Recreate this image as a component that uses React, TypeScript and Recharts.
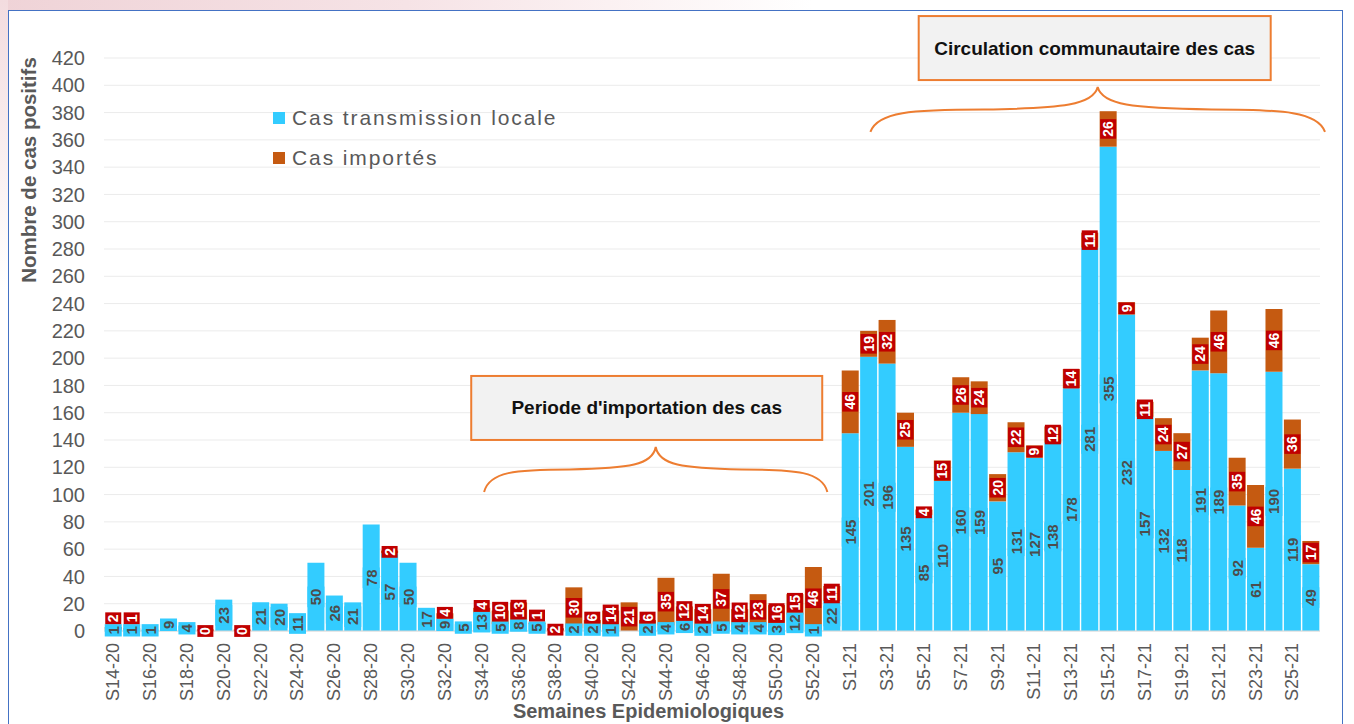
import React from 'react';
import {
  BarChart,
  Bar,
  XAxis,
  YAxis,
  CartesianGrid,
  LabelList,
  Legend,
  ReferenceArea,
  Label,
} from 'recharts';

// ---------- DATA ----------
const weeks: string[] = [
  'S14-20', 'S15-20', 'S16-20', 'S17-20', 'S18-20', 'S19-20', 'S20-20', 'S21-20', 'S22-20', 'S23-20',
  'S24-20', 'S25-20', 'S26-20', 'S27-20', 'S28-20', 'S29-20', 'S30-20', 'S31-20', 'S32-20', 'S33-20',
  'S34-20', 'S35-20', 'S36-20', 'S37-20', 'S38-20', 'S39-20', 'S40-20', 'S41-20', 'S42-20', 'S43-20',
  'S44-20', 'S45-20', 'S46-20', 'S47-20', 'S48-20', 'S49-20', 'S50-20', 'S51-20', 'S52-20', 'S53-20',
  'S1-21', 'S2-21', 'S3-21', 'S4-21', 'S5-21', 'S6-21', 'S7-21', 'S8-21', 'S9-21', 'S10-21',
  'S11-21', 'S12-21', 'S13-21', 'S14-21', 'S15-21', 'S16-21', 'S17-21', 'S18-21', 'S19-21', 'S20-21',
  'S21-21', 'S22-21', 'S23-21', 'S24-21', 'S25-21', 'S26-21',
];

const localCases: (number | null)[] = [
  1, 1, 1, 9, 4, null, 23, null, 21, 20,
  11, 50, 26, 21, 78, 57, 50, 17, 9, 5,
  13, 5, 8, 5, null, 2, 2, 1, null, 2,
  4, 6, 2, 5, 4, 4, 3, 12, 1, 22,
  145, 201, 196, 135, 85, 110, 160, 159, 95, 131,
  127, 138, 178, 281, 355, 232, 157, 132, 118, 191,
  189, 92, 61, 190, 119, 49,
];

const importedCases: (number | null)[] = [
  2, 1, null, null, null, 0, null, 0, null, null,
  null, null, null, null, null, 2, null, null, 4, null,
  4, 10, 13, 1, 2, 30, 6, 14, 21, 6,
  35, 12, 14, 37, 12, 23, 16, 15, 46, 11,
  46, 19, 32, 25, 4, 15, 26, 24, 20, 22,
  9, 12, 14, 11, 26, 9, 11, 24, 27, 24,
  46, 35, 46, 46, 36, 17,
];

const yTicks: number[] = [0, 20, 40, 60, 80, 100, 120, 140, 160, 180, 200, 220, 240, 260, 280, 300, 320, 340, 360, 380, 400, 420];

const seriesNames = { local: 'Cas transmission locale', imported: 'Cas importés' };
const axisTitles = { y: 'Nombre de cas positifs', x: 'Semaines Epidemiologiques' };
const annotations = {
  import: { text: "Periode d'importation des cas", from: 'S34-20', to: 'S53-20', tipValue: 134.9, endValue: 101.9 },
  community: { text: 'Circulation communautaire des cas', from: 'S2-21', to: 'S26-21', tipValue: 398.7, endValue: 365.8 },
};

const data = weeks.map((w, i) => ({
  week: w,
  local: localCases[i],
  imported: importedCases[i],
  redLbl: importedCases[i] === null ? null : `${importedCases[i]}|${localCases[i] === null ? '' : localCases[i]}`,
}));

// ---------- STYLE ----------
const FONT = "'Liberation Sans', Arial, Helvetica, sans-serif";
const BLUE = '#33CCFF';
const ORANGE = '#C55A11';
const RED = '#C00000';
const ACCENT = '#ED7D31';
const GRAY = '#595959';
const W = 1354;
const H = 724;
const MARGIN = { top: 58, right: 34, bottom: 0, left: 0 };
const X_AXIS_H = 93;
const Y_AXIS_W = 104;
const PLOT_H = H - MARGIN.top - MARGIN.bottom - X_AXIS_H;
const Y_MAX = 420;

const boxLen = (s: string, fs: number) => s.length * 0.556 * fs + 4;

const geom = (props: any) => {
  const vb = props.viewBox && typeof props.viewBox.x === 'number' ? props.viewBox : props;
  const x = Number(vb.x);
  const y = Number(vb.y);
  const w = Number(vb.width);
  const h = Number(vb.height);
  const top = Math.min(y, y + h);
  return { x, top, w, hh: Math.abs(h) };
};

const BlueLabel = (props: any) => {
  const v = props.value;
  if (v === null || v === undefined || v === '') return null;
  const { x, top, w, hh } = geom(props);
  const cx = x + w / 2;
  const cy = top + hh / 2;
  const s = String(v);
  const bh = boxLen(s, 15);
  return (
    <g>
      <rect x={x} y={cy - bh / 2} width={w} height={bh} fill={BLUE} />
      <text
        x={cx}
        y={cy}
        transform={`rotate(-90 ${cx} ${cy})`}
        textAnchor="middle"
        dominantBaseline="central"
        fontSize={15}
        fontWeight="bold"
        fontFamily={FONT}
        fill="#4D4D4D"
      >
        {s}
      </text>
    </g>
  );
};

const RedLabel = (props: any) => {
  const raw = props.value;
  if (raw === null || raw === undefined) return null;
  const [impS, locS] = String(raw).split('|');
  const imp = Number(impS);
  const loc = locS === '' || locS === undefined ? null : Number(locS);
  const { x, top, w, hh } = geom(props);
  const ppu = imp > 0 && hh > 0 ? hh / imp : PLOT_H / Y_MAX;
  const cx = x + w / 2;
  const rh = boxLen(impS, 14);
  let cy = top + hh / 2;
  if (imp === 0) cy = top + hh;
  if (loc !== null) {
    const blueH = loc * ppu;
    const axisY = top + hh + blueH;
    const blueCy = axisY - blueH / 2;
    const blueTop = blueCy - boxLen(locS, 15) / 2;
    cy = Math.min(cy, blueTop - rh / 2);
  }
  const bw = Math.max(w - 1, 10);
  return (
    <g>
      <rect x={cx - bw / 2} y={cy - rh / 2} width={bw} height={rh} fill={RED} />
      <text
        x={cx}
        y={cy}
        transform={`rotate(-90 ${cx} ${cy})`}
        textAnchor="middle"
        dominantBaseline="central"
        fontSize={14}
        fontWeight="bold"
        fontFamily={FONT}
        fill="#FFFFFF"
      >
        {impS}
      </text>
    </g>
  );
};

const XTick = (props: any) => {
  const { x, y, payload } = props;
  const ty = y + 12;
  return (
    <text
      x={x}
      y={ty}
      transform={`rotate(-90 ${x} ${ty})`}
      textAnchor="end"
      dominantBaseline="central"
      fontSize={18}
      fontFamily={FONT}
      fill={GRAY}
    >
      {payload.value}
    </text>
  );
};

const bracePath = (L: number, R: number, T: number, B: number) => {
  const M = (L + R) / 2;
  const hw = (R - L) / 2;
  const Hy = T + 0.5 * (B - T);
  return [
    `M ${L} ${B}`,
    `C ${L + 0.03 * hw} ${Hy + 0.1 * (B - Hy)}, ${L + 0.18 * hw} ${Hy}, ${L + 0.5 * hw} ${Hy}`,
    `C ${M - 0.15 * hw} ${Hy - 0.05 * (Hy - T)}, ${M - 0.02 * hw} ${Hy - 0.2 * (Hy - T)}, ${M} ${T}`,
    `C ${M + 0.02 * hw} ${Hy - 0.2 * (Hy - T)}, ${M + 0.15 * hw} ${Hy - 0.05 * (Hy - T)}, ${R - 0.5 * hw} ${Hy}`,
    `C ${R - 0.18 * hw} ${Hy}, ${R - 0.03 * hw} ${Hy + 0.1 * (B - Hy)}, ${R} ${B}`,
  ].join(' ');
};

const makeAnnotation = (text: string, insetL: number, insetR: number, boxW: number, boxDx: number) => (p: any) => {
  const x = Number(p.x);
  const y = Number(p.y);
  const width = Number(p.width);
  const height = Number(p.height);
  const L = x + insetL;
  const R = x + width - insetR;
  const T = y;
  const B = y + height;
  const cx = (L + R) / 2 + boxDx;
  const boxH = 64;
  const boxBottom = T - 7;
  return (
    <g>
      <path d={bracePath(L, R, T, B)} fill="none" stroke={ACCENT} strokeWidth={2} />
      <rect x={cx - boxW / 2} y={boxBottom - boxH} width={boxW} height={boxH} fill="#F2F2F2" stroke={ACCENT} strokeWidth={2} />
      <text
        x={cx}
        y={boxBottom - boxH / 2}
        textAnchor="middle"
        dominantBaseline="central"
        fontSize={19}
        fontWeight="bold"
        fontFamily={FONT}
        fill="#111111"
      >
        {text}
      </text>
    </g>
  );
};

const LegendContent = () => {
  const items = [
    { name: seriesNames.local, color: BLUE },
    { name: seriesNames.imported, color: ORANGE },
  ];
  return (
    <div style={{ fontFamily: FONT }}>
      {items.map((it) => (
        <div key={it.name} style={{ display: 'flex', alignItems: 'center', height: 40 }}>
          <div style={{ width: 12, height: 12, background: it.color, marginRight: 7 }} />
          <span style={{ fontSize: 21, color: GRAY, letterSpacing: 1.9, whiteSpace: 'nowrap' }}>{it.name}</span>
        </div>
      ))}
    </div>
  );
};

const zeroMinSize = (_v: any, index: number) => (importedCases[index] === 0 ? 1.5 : 0);

export default function App() {
  return (
    <div style={{ position: 'fixed', left: 0, top: 0, width: W, height: H, background: '#FFFFFF', overflow: 'hidden' }}>
      <div
        style={{
          position: 'absolute',
          left: 0,
          top: 0,
          width: W,
          height: 10,
          background: 'linear-gradient(90deg, #EFD3D7 0%, #F6E3E6 30%, #FBF1F2 45%, #FFFFFF 60%)',
        }}
      />
      <div style={{ position: 'absolute', left: 0, top: 0, width: 8, height: H, background: 'linear-gradient(180deg, #F3DCDF 0%, #FFFFFF 40%)' }} />
      <BarChart width={W} height={H} data={data} margin={MARGIN} barCategoryGap={0.75}>
        <CartesianGrid vertical={false} stroke="#EBEBEB" />
        <XAxis
          dataKey="week"
          height={X_AXIS_H}
          interval={1}
          tickLine={false}
          tickSize={0}
          tickMargin={0}
          axisLine={{ stroke: '#D9D9D9' }}
          tick={<XTick />}
        >
          <Label
            content={(lp: any) => {
              const vb = lp.viewBox || {};
              return (
                <text
                  x={Number(vb.x) + 544.5}
                  y={718}
                  textAnchor="middle"
                  fontSize={20}
                  fontWeight="bold"
                  fontFamily={FONT}
                  fill={GRAY}
                >
                  {axisTitles.x}
                </text>
              );
            }}
          />
        </XAxis>
        <YAxis
          width={Y_AXIS_W}
          domain={[0, Y_MAX]}
          ticks={yTicks}
          interval={0}
          axisLine={false}
          tickLine={false}
          tickSize={0}
          tickMargin={19}
          tick={{ fontSize: 20, fill: GRAY, fontFamily: FONT }}
        >
          <Label
            content={() => (
              <text
                x={28}
                y={170}
                transform="rotate(-90 28 170)"
                textAnchor="middle"
                dominantBaseline="central"
                fontSize={20.5}
                fontWeight="bold"
                fontFamily={FONT}
                fill={GRAY}
              >
                {axisTitles.y}
              </text>
            )}
          />
        </YAxis>
        <Legend
          layout="vertical"
          align="center"
          verticalAlign="middle"
          content={<LegendContent />}
          wrapperStyle={{ position: 'absolute', left: 273, top: 98, width: 320, height: 80 }}
        />
        <Bar dataKey="local" name={seriesNames.local} stackId="a" fill={BLUE} isAnimationActive={false}>
          <LabelList dataKey="local" content={<BlueLabel />} />
        </Bar>
        <Bar
          dataKey="imported"
          name={seriesNames.imported}
          stackId="a"
          fill={ORANGE}
          minPointSize={zeroMinSize}
          isAnimationActive={false}
        >
          <LabelList dataKey="redLbl" content={<RedLabel />} />
        </Bar>
        <ReferenceArea
          x1={annotations.import.from}
          x2={annotations.import.to}
          y1={annotations.import.endValue}
          y2={annotations.import.tipValue}
          ifOverflow="visible"
          shape={makeAnnotation(annotations.import.text, 11.6, 13.6, 351, -9)}
        />
        <ReferenceArea
          x1={annotations.community.from}
          x2={annotations.community.to}
          y1={annotations.community.endValue}
          y2={annotations.community.tipValue}
          ifOverflow="visible"
          shape={makeAnnotation(annotations.community.text, 11, -5, 352, -3)}
        />
      </BarChart>
      <div
        style={{
          position: 'absolute',
          left: 8,
          top: 10,
          width: 1335,
          height: 740,
          border: '1.5px solid #4472C4',
          boxSizing: 'border-box',
          pointerEvents: 'none',
        }}
      />
    </div>
  );
}
